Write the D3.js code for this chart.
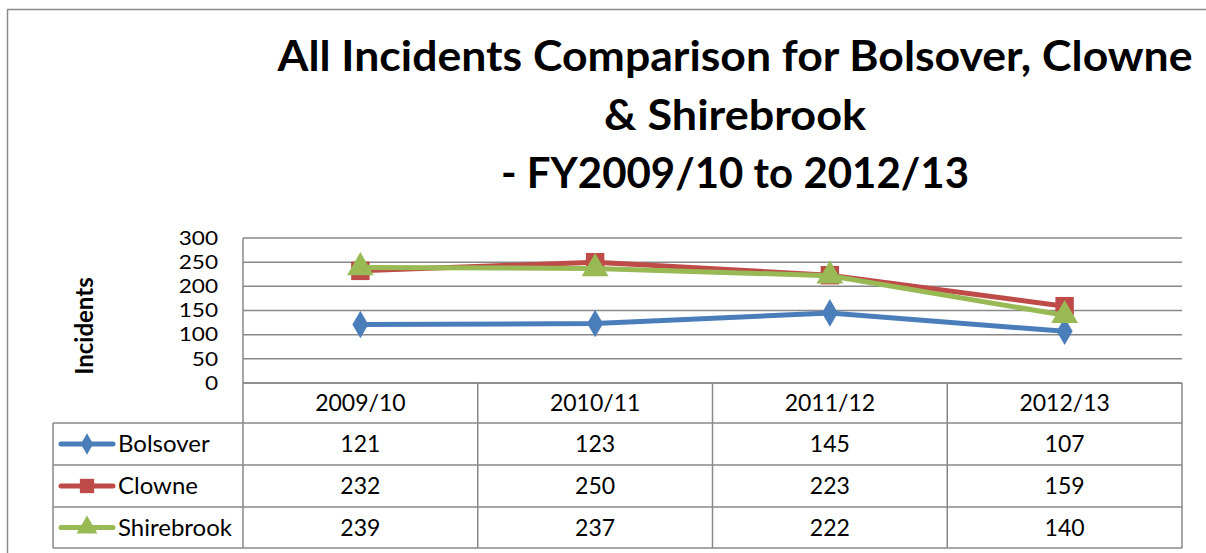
<!DOCTYPE html>
<html>
<head>
<meta charset="utf-8">
<script src="https://cdn.jsdelivr.net/npm/d3@7"></script>
<style>
  html, body { margin: 0; padding: 0; background: #fff; }
  svg { display: block; font-family: Lato, "Open Sans", sans-serif; }
</style>
</head>
<body>
<svg id="chart" width="1206" height="553"></svg>
<script>
// Fiscal years and incident counts per area
const categories = ["2009/10", "2010/11", "2011/12", "2012/13"];
const seriesNames = ["Bolsover", "Clowne", "Shirebrook"];
const bolsover = [121, 123, 145, 107];
const clowne = [232, 250, 223, 159];
const shirebrook = [239, 237, 222, 140];
const yTicks = [0, 50, 100, 150, 200, 250, 300];
const titleLines = ["All Incidents Comparison for Bolsover, Clowne", "& Shirebrook", "- FY2009/10 to 2012/13"];

const seriesValues = [bolsover, clowne, shirebrook];
const colors = ["#4A7EBB", "#BE4B48", "#98B954"];
const markers = [d3.symbolDiamond, d3.symbolSquare, d3.symbolTriangle];
const markerSizes = [220, 340, 310];

const svg = d3.select("#chart");
const plot = { left: 243, right: 1182, top: 238, bottom: 383 };
const gridColor = "#888888";

// outer chart frame
svg.append("rect").attr("x", 7.5).attr("y", 9.5).attr("width", 1205).attr("height", 560)
  .attr("fill", "none").attr("stroke", "#8a8a8a").attr("stroke-width", 1.5);

// title, each line fitted to its set width
const titleWidths = [915, 262, 468];
const title = svg.append("text").attr("text-anchor", "middle")
  .attr("font-weight", "bold").attr("font-size", 42).attr("fill", "#000");
titleLines.forEach((t, i) => {
  title.append("tspan").attr("x", 735).attr("y", 71 + i * 58.5)
    .attr("textLength", titleWidths[i]).attr("lengthAdjust", "spacingAndGlyphs").text(t);
});

const x = d3.scaleBand().domain(categories).range([plot.left, plot.right]);
const y = d3.scaleLinear().domain([0, 300]).range([plot.bottom, plot.top]);

// horizontal gridlines
svg.append("g").selectAll("line").data(yTicks).join("line")
  .attr("x1", plot.left).attr("x2", plot.right)
  .attr("y1", d => y(d)).attr("y2", d => y(d))
  .attr("stroke", gridColor).attr("stroke-width", 1.5);

// left axis line
svg.append("line").attr("x1", plot.left).attr("x2", plot.left)
  .attr("y1", plot.top).attr("y2", plot.bottom)
  .attr("stroke", gridColor).attr("stroke-width", 1.5);

// y axis labels: compact size, widened slightly so the stacked numbers stay clear of each other
const yAxis = d3.axisLeft(y).tickValues(yTicks).tickSize(0).tickPadding(25);
const yg = svg.append("g").attr("transform", `translate(${plot.left},0)`).call(yAxis);
yg.select(".domain").remove();
yg.selectAll("text").attr("font-size", 19.5).attr("fill", "#000")
  .attr("font-family", "Lato, sans-serif")
  .each(function () {
    const w = this.getComputedTextLength();
    d3.select(this).attr("textLength", w * 1.16).attr("lengthAdjust", "spacingAndGlyphs");
  });

// y axis title
svg.append("text").attr("transform", "translate(93,326) rotate(-90)")
  .attr("text-anchor", "middle").attr("font-weight", "bold").attr("font-size", 24)
  .text("Incidents");

// data table
const rowTops = [383, 423, 465, 507, 548];
const tableLeft = 53;
const tg = svg.append("g").attr("stroke", gridColor).attr("stroke-width", 1.5).attr("fill", "none");
categories.forEach(c => {
  tg.append("line").attr("x1", x(c)).attr("x2", x(c)).attr("y1", rowTops[0]).attr("y2", rowTops[4]);
});
tg.append("line").attr("x1", plot.right).attr("x2", plot.right).attr("y1", rowTops[0]).attr("y2", rowTops[4]);
tg.append("line").attr("x1", tableLeft).attr("x2", tableLeft).attr("y1", rowTops[1]).attr("y2", rowTops[4]);
rowTops.forEach((ry, i) => {
  tg.append("line").attr("x1", i === 0 ? plot.left : tableLeft).attr("x2", plot.right)
    .attr("y1", ry).attr("y2", ry);
});

// header labels
svg.append("g").selectAll("text").data(categories).join("text")
  .attr("x", d => x(d) + x.bandwidth() / 2).attr("y", (rowTops[0] + rowTops[1]) / 2 + 8)
  .attr("text-anchor", "middle").attr("font-size", 23).text(d => d);

// series lines, markers and table rows
const line = d3.line().x((d, i) => x(categories[i]) + x.bandwidth() / 2).y(d => y(d));
seriesValues.forEach((vals, s) => {
  const g = svg.append("g");
  g.append("path").datum(vals).attr("d", line).attr("fill", "none")
    .attr("stroke", colors[s]).attr("stroke-width", 5).attr("stroke-linejoin", "round");
  g.selectAll("path.m").data(vals).join("path").attr("class", "m")
    .attr("transform", (d, i) => `translate(${x(categories[i]) + x.bandwidth() / 2},${y(d)})`)
    .attr("d", d3.symbol(markers[s], markerSizes[s])).attr("fill", colors[s]);

  const cy = (rowTops[s + 1] + rowTops[s + 2]) / 2;
  const leg = svg.append("g");
  leg.append("line").attr("x1", 61).attr("x2", 113).attr("y1", cy).attr("y2", cy)
    .attr("stroke", colors[s]).attr("stroke-width", 5).attr("stroke-linecap", "round");
  leg.append("path").attr("transform", `translate(87,${cy})`)
    .attr("d", d3.symbol(markers[s], markerSizes[s] * 0.6)).attr("fill", colors[s]);
  leg.append("text").attr("x", 118).attr("y", cy + 8).attr("font-size", 24).text(seriesNames[s]);
  leg.selectAll("text.v").data(vals).join("text").attr("class", "v")
    .attr("x", (d, i) => x(categories[i]) + x.bandwidth() / 2).attr("y", cy + 8)
    .attr("text-anchor", "middle").attr("font-size", 23).text(d => d);
});
</script>
</body>
</html>
